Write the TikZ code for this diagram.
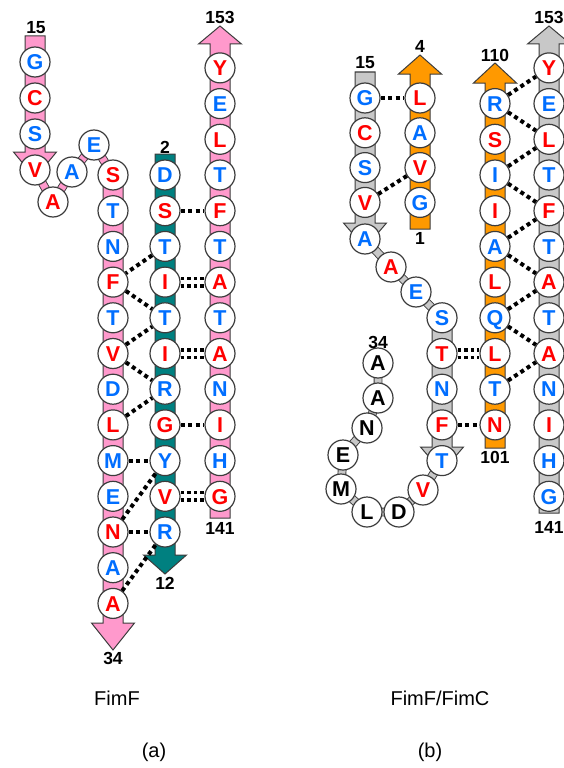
\documentclass[tikz,border=0pt]{standalone}
\usepackage{fontspec}
\setmainfont{Liberation Sans}
\pgfdeclarelayer{bg}
\pgfdeclarelayer{mid}
\pgfsetlayers{bg,mid,main}
\definecolor{pinkc}{RGB}{255,153,204}
\definecolor{tealc}{RGB}{0,128,128}
\definecolor{orangec}{RGB}{255,153,0}
\definecolor{grayc}{RGB}{200,200,200}
\definecolor{rd}{RGB}{255,0,0}
\definecolor{bl}{RGB}{0,110,255}
\definecolor{edgec}{RGB}{60,60,60}
\tikzset{
 res/.style={circle, draw=edgec, line width=1.2pt, fill=white, minimum size=30pt, inner sep=0pt,
   font=\fontsize{21.5}{25}\selectfont\bfseries, text height=15.4pt, text depth=0pt},
 num/.style={font=\fontsize{17.5}{21}\selectfont\bfseries, inner sep=0pt},
 capt/.style={font=\fontsize{20}{24}\selectfont, inner sep=0pt},
 strand/.style={draw=edgec, line width=1pt},
 hb/.style={draw=black, line width=4pt, dash pattern=on 4pt off 3.5pt},
 hbd/.style={draw=black, line width=3.6pt, dash pattern=on 3.6pt off 3pt},
 link/.style={draw=edgec, line width=0.9pt, double distance=7pt},
}
\newcommand\strandarrow[5]{\filldraw[strand, fill=#1] ({#2-10},#3) -- ({#2+10},#3) -- ({#2+10},#4) -- ({#2+21.5},#4) -- (#2,#5) -- ({#2-21.5},#4) -- ({#2-10},#4) -- cycle;}
\begin{document}
\begin{tikzpicture}[x=1pt,y=-1pt]
\useasboundingbox (0,0) rectangle (563,768);
% strands
\begin{pgfonlayer}{bg}
\strandarrow{pinkc}{35}{36}{152}{178}
\strandarrow{pinkc}{113}{175}{623}{650}
\strandarrow{tealc}{165}{154}{555}{574}
\strandarrow{pinkc}{220}{518}{44}{26}
\strandarrow{grayc}{365}{72}{223}{248}
\strandarrow{grayc}{442}{320}{447}{472}
\strandarrow{orangec}{420}{229}{74}{55}
\strandarrow{orangec}{495}{448}{83}{63}
\strandarrow{grayc}{549}{513}{44}{26}
\end{pgfonlayer}
% ---------- panel (a) residues
\foreach \t/\c [count=\i from 0] in {G/bl,C/rd,S/bl,V/rd}
  \node[res,text=\c] (a1-\i) at (35,{62+36*\i}) {\t};
\node[res,text=rd] (la1) at (53,202) {A};
\node[res,text=bl] (la2) at (72,172) {A};
\node[res,text=bl] (la3) at (94,145) {E};
\foreach \t/\c [count=\i from 0] in {S/rd,T/bl,N/bl,F/rd,T/bl,V/rd,D/bl,L/rd,M/bl,E/bl,N/rd,A/bl,A/rd}
  \node[res,text=\c] (a2-\i) at (113,{175+35.7*\i}) {\t};
\foreach \t/\c [count=\i from 0] in {D/bl,S/rd,T/bl,I/rd,T/bl,I/rd,R/bl,G/rd,Y/bl,V/rd,R/bl}
  \node[res,text=\c] (a3-\i) at (165,{175+35.7*\i}) {\t};
\foreach \t/\c [count=\i from 0] in {Y/rd,E/bl,L/rd,T/bl,F/rd,T/bl,A/rd,T/bl,A/rd,N/bl,I/rd,H/bl,G/rd}
  \node[res,text=\c] (a4-\i) at (220,{175+35.7*(\i-3)}) {\t};
% ---------- panel (b) residues
\foreach \t/\c [count=\i from 0] in {G/bl,C/rd,S/bl,V/rd}
  \node[res,text=\c] (b1-\i) at (365,{98+34.8*\i}) {\t};
\node[res,text=bl] (lb1) at (365,239) {A};
\node[res,text=rd] (lb2) at (391,267) {A};
\node[res,text=bl] (lb3) at (416,292) {E};
\foreach \t/\c [count=\i from 0] in {S/bl,T/rd,N/bl,F/rd,T/bl}
  \node[res,text=\c] (b2-\i) at (442,{175+35.7*(\i+4)}) {\t};
\node[res,text=rd] (lc1) at (423,490) {V};
\node[res,text=black] (lc2) at (399,512) {D};
\node[res,text=black] (lc3) at (367,512) {L};
\node[res,text=black] (lc4) at (341,489) {M};
\node[res,text=black] (lc5) at (343,455) {E};
\node[res,text=black] (lc6) at (367,428) {N};
\node[res,text=black] (lc7) at (378,398) {A};
\node[res,text=black] (lc8) at (378,363) {A};
\foreach \t/\c [count=\i from 0] in {L/rd,A/bl,V/rd,G/bl}
  \node[res,text=\c] (b3-\i) at (420,{98+34.8*\i}) {\t};
\foreach \t/\c [count=\i from 0] in {R/bl,S/rd,I/bl,I/rd,A/bl,L/rd,Q/bl,L/rd,T/bl,N/rd}
  \node[res,text=\c] (b4-\i) at (495,{175+35.7*(\i-2)}) {\t};
\foreach \t/\c [count=\i from 0] in {Y/rd,E/bl,L/rd,T/bl,F/rd,T/bl,A/rd,T/bl,A/rd,N/bl,I/rd,H/bl,G/bl}
  \node[res,text=\c] (b5-\i) at (549,{175+35.7*(\i-3)}) {\t};
% loop links
\begin{pgfonlayer}{mid}
\draw[link, double=pinkc] (a1-3.center) -- (la1.center) -- (la2.center) -- (la3.center) -- (a2-0.center);
\draw[link, double=grayc] (lb1.center) -- (lb2.center) -- (lb3.center) -- (b2-0.center);
\draw[link, double=grayc] (b2-4.center) -- (lc1.center) -- (lc2.center) -- (lc3.center) -- (lc4.center)
   -- (lc5.center) -- (lc6.center) -- (lc7.center) -- (lc8.center);
\end{pgfonlayer}
% numbers
\node[num] (na15) at (36,28) {15};
\node[num] (na153) at (220,17) {153};
\node[num] (na2) at (165,147) {2};
\node[num] (na12) at (165,583) {12};
\node[num] (na34) at (113,658) {34};
\node[num] (na141) at (220,528) {141};
\node[num] (nb15) at (365,63) {15};
\node[num] (nb4) at (420,46) {4};
\node[num] (nb1) at (420,238) {1};
\node[num] (nb110) at (495,55) {110};
\node[num] (nb101) at (495,457) {101};
\node[num] (nb153) at (549,17) {153};
\node[num] (nb141) at (549,527) {141};
\node[num] (nb34) at (378,342) {34};
% captions
\node[capt] (ca) at (117,698) {FimF};
\node[capt] (cb) at (440,698) {FimF/FimC};
\node[capt] (pa) at (154,752) {(a)};
\node[capt] (pb) at (430,752) {(b)};
% hydrogen bonds (a)
\draw[hb] (a3-1) -- (a4-4);
\draw[hb] (a3-2) -- (a2-3);
\draw[hb] (a2-3) -- (a3-4);
\draw[hb] (a2-5) -- (a3-4);
\draw[hb] (a2-5) -- (a3-6);
\draw[hb] (a2-7) -- (a3-6);
\draw[hb] (a3-7) -- (a4-10);
\draw[hb] (a2-8) -- (a3-8);
\draw[hb] (a2-10) -- (a3-8);
\draw[hb] (a2-10) -- (a3-10);
\draw[hb] (a2-12) -- (a3-10);
\foreach \p/\q in {a3-3/a4-6, a3-5/a4-8, a3-9/a4-12, b2-1/b4-7}{
  \draw[hbd] ([yshift=3.8pt]\p.east) -- ([yshift=3.8pt]\q.west);
  \draw[hbd] ([yshift=-3.8pt]\p.east) -- ([yshift=-3.8pt]\q.west);
}
% hydrogen bonds (b)
\draw[hb] (b1-0) -- (b3-0);
\draw[hb] (b1-3) -- (b3-2);
\draw[hb] (b2-3) -- (b4-9);
\draw[hb] (b4-0) -- (b5-0);
\draw[hb] (b4-0) -- (b5-2);
\draw[hb] (b4-2) -- (b5-2);
\draw[hb] (b4-2) -- (b5-4);
\draw[hb] (b4-4) -- (b5-4);
\draw[hb] (b4-4) -- (b5-6);
\draw[hb] (b4-6) -- (b5-6);
\draw[hb] (b4-6) -- (b5-8);
\draw[hb] (b4-8) -- (b5-8);
\end{tikzpicture}
\end{document}
